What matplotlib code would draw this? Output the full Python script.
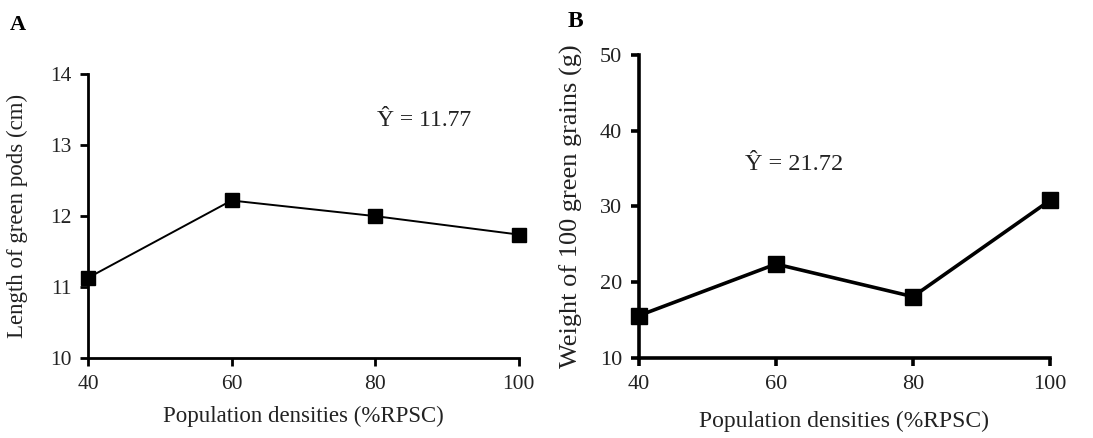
import matplotlib
matplotlib.use('Agg')
import matplotlib.pyplot as plt

# panel A
density = [40, 60, 80, 100]
pod_length = [11.13, 12.22, 12.00, 11.74]
# panel B
grain_weight = [15.6, 22.4, 18.1, 30.8]

plt.rcParams['font.family'] = ['Liberation Serif', 'DejaVu Serif']
txt = '#222222'

fig = plt.figure(figsize=(10.93, 4.38), dpi=100)
ax1 = fig.add_axes([0.0805, 0.1826, 0.394, 0.648])
ax2 = fig.add_axes([0.5846, 0.1826, 0.376, 0.692])


def style(ax, lw):
    for side in ['top', 'right']:
        ax.spines[side].set_visible(False)
    for side in ['left', 'bottom']:
        ax.spines[side].set_linewidth(lw)
        ax.spines[side].set_color('black')
    ax.tick_params(direction='out', length=6, width=lw, colors='black',
                   labelcolor=txt, pad=6)


ax1.plot(density, pod_length, color='black', lw=1.4, marker='s', ms=10, clip_on=False)
ax1.set_xlim(40, 100)
ax1.set_ylim(10, 14)
ax1.set_xticks([40, 60, 80, 100])
ax1.set_yticks([10, 11, 12, 13, 14])
style(ax1, 2.0)
ax1.tick_params(labelsize=15.5)
ax1.set_xlabel('Population densities (%RPSC)', fontsize=16.5, color=txt, labelpad=9)
ax1.set_ylabel('Length of green pods (cm)', fontsize=16.5, color=txt, labelpad=16)
ax1.text(80.3, 13.35, 'Ŷ = 11.77', fontsize=17, color=txt, va='center')

ax2.plot(density, grain_weight, color='black', lw=2.6, marker='s', ms=11, clip_on=False)
ax2.set_xlim(40, 100)
ax2.set_ylim(10, 50)
ax2.set_xticks([40, 60, 80, 100])
ax2.set_yticks([10, 20, 30, 40, 50])
style(ax2, 2.6)
ax2.tick_params(labelsize=16)
ax2.set_xlabel('Population densities (%RPSC)', fontsize=17, color=txt, labelpad=12)
ax2.set_ylabel('Weight of 100 green grains (g)', fontsize=19, color=txt, labelpad=12)
ax2.text(55.5, 35.5, 'Ŷ = 21.72', fontsize=17.5, color=txt, va='center')

fig.text(0.009, 0.965, 'A', fontsize=16, fontweight='bold', va='top')
fig.text(0.519, 0.975, 'B', fontsize=17, fontweight='bold', va='top')

fig.savefig('out.png', dpi=100)
